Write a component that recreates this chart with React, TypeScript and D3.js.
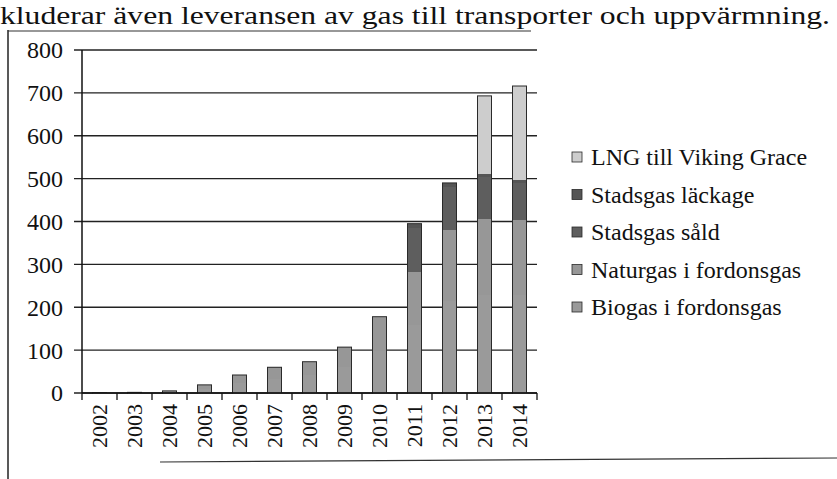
import React from "react";
import * as d3 from "d3";

const years = ["2002", "2003", "2004", "2005", "2006", "2007", "2008", "2009", "2010", "2011", "2012", "2013", "2014"];
const biogas = [0.5, 1, 3, 11, 24, 34, 42, 62, 100, 160, 215, 230, 230];
const naturgas = [0, 0.5, 2, 8, 18, 26, 31, 45, 78, 124, 166, 177, 175];
const stadsgasSald = [0, 0, 0, 0, 0, 0, 0, 0, 0, 103, 101, 97, 86];
const stadsgasLackage = [0, 0, 0, 0, 0, 0, 0, 0, 0, 8, 8, 8, 7];
const lng = [0, 0, 0, 0, 0, 0, 0, 0, 0, 0, 0, 181, 218];
const yTicks = [0, 100, 200, 300, 400, 500, 600, 700, 800];

const seriesNames = ["Biogas i fordonsgas", "Naturgas i fordonsgas", "Stadsgas såld", "Stadsgas läckage", "LNG till Viking Grace"];
const seriesValues = [biogas, naturgas, stadsgasSald, stadsgasLackage, lng];
const seriesColors = ["#9a9a9a", "#979797", "#5e5e5e", "#555555", "#cdcdcd"];

const font = "Liberation Serif, Tinos, Times New Roman, serif";

export default function App() {
  const width = 837, height = 479;
  const x = d3.scaleBand().domain(years).range([82, 537]).paddingInner(0.6).paddingOuter(0.3);
  const y = d3.scaleLinear().domain([0, 800]).range([393, 50]);

  const table = years.map((yr, i) => {
    const row: any = { year: yr };
    seriesNames.forEach((n, k) => (row[n] = seriesValues[k][i]));
    return row;
  });
  const stacked = d3.stack().keys(seriesNames)(table);
  const totals = years.map((_, i) => d3.sum(seriesValues, (s) => s[i]));

  const boundaries = years.map((yr) => (x(yr) as number) - x.step() * 0.3);
  boundaries.push(537);

  return (
    <svg width={width} height={height} style={{ position: "absolute", left: 0, top: 0, background: "#fff", fontFamily: font }}>
      <text x={0} y={24} fontSize={25} textLength={830} lengthAdjust="spacingAndGlyphs" fill="#111">
        kluderar även leveransen av gas till transporter och uppvärmning.
      </text>
      {/* frame */}
      <line x1={8} x2={8} y1={30} y2={479} stroke="#222" strokeWidth={1.5} />
      <line x1={8} x2={531} y1={31} y2={31} stroke="#333" strokeWidth={1.2} />
      <line x1={160} x2={837} y1={462} y2={458} stroke="#333" strokeWidth={1.2} />

      {/* grid */}
      {yTicks.map((t) => (
        <g key={t}>
          <line x1={74} x2={537} y1={y(t)} y2={y(t)} stroke="#222" strokeWidth={1.3} />
          <text x={63} y={y(t)} dy="0.35em" textAnchor="end" fontSize={24} fill="#111">{t}</text>
        </g>
      ))}
      <line x1={82} x2={82} y1={y(800)} y2={y(0)} stroke="#111" strokeWidth={1.5} />

      {/* bars */}
      {stacked.map((s, k) => (
        <g key={seriesNames[k]} fill={seriesColors[k]} shapeRendering="crispEdges">
          {s.map((d, i) =>
            d[1] - d[0] > 0 ? (
              <rect key={i} x={x(years[i])} width={x.bandwidth()} y={y(d[1])} height={y(d[0]) - y(d[1]) + 0.5} />
            ) : null
          )}
        </g>
      ))}
      <g fill="none" stroke="#2a2a2a" strokeWidth={1}>
        {totals.map((t, i) => (
          <rect key={i} x={x(years[i])} width={x.bandwidth()} y={y(t)} height={y(0) - y(t)} />
        ))}
      </g>

      {/* x axis */}
      <line x1={82} x2={537} y1={y(0)} y2={y(0)} stroke="#111" strokeWidth={1.5} />
      {boundaries.map((b, i) => (
        <line key={i} x1={b} x2={b} y1={y(0)} y2={y(0) + 7} stroke="#111" strokeWidth={1.3} />
      ))}
      {years.map((yr) => (
        <text
          key={yr}
          transform={`translate(${(x(yr) as number) + x.bandwidth() / 2},${y(0) + 11}) rotate(-90)`}
          dy="0.35em"
          textAnchor="end"
          fontSize={22}
          fill="#111"
        >
          {yr}
        </text>
      ))}

      {/* legend */}
      {seriesNames
        .map((n, k) => ({ n, k }))
        .reverse()
        .map(({ n, k }, j) => (
          <g key={n} transform={`translate(572,${157 + j * 37.5})`}>
            <rect x={0} y={-5} width={10} height={10} fill={seriesColors[k]} stroke="#2a2a2a" strokeWidth={0.8} />
            <text x={19} y={0} dy="0.35em" fontSize={24} fill="#111">{n}</text>
          </g>
        ))}
    </svg>
  );
}
